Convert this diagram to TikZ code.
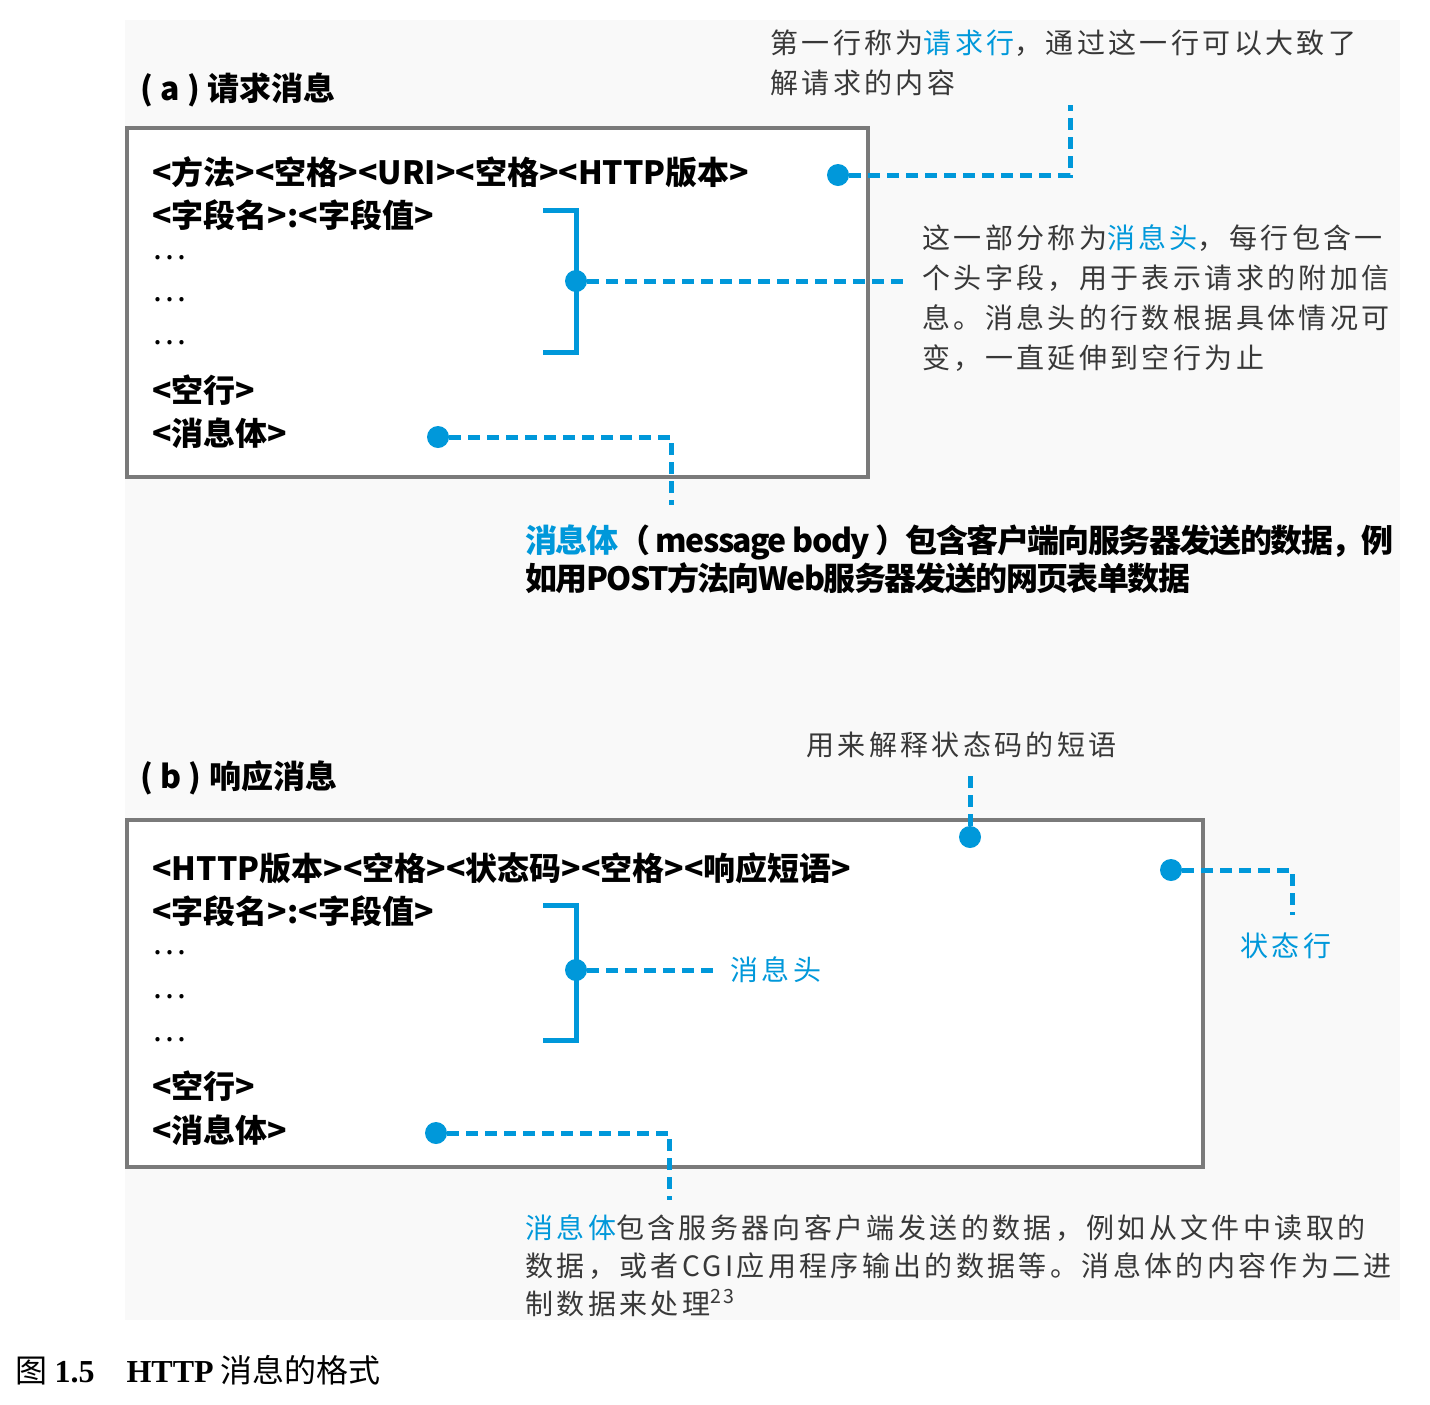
\documentclass[tikz,border=0pt]{standalone}
\usepackage{fontspec}
\setmainfont{Noto Sans CJK SC}
\newfontfamily\notefont[LetterSpace=12]{Noto Sans CJK SC}
\newfontfamily\tightfont[LetterSpace=-5]{Noto Sans CJK SC}
\newfontfamily\capfont{Liberation Serif}
\usepackage{tikz}
\definecolor{leadblue}{HTML}{0098DA}
\definecolor{framegray}{HTML}{7A7A7A}
\definecolor{notegray}{HTML}{383838}
\definecolor{scanbg}{HTML}{F9F9F9}
\newcommand{\hl}[1]{\textcolor{leadblue}{#1}}
\tikzset{dot/.style={fill=leadblue, inner sep=0pt, minimum size=11pt, circle},
  lead/.style={leadblue, line width=2.5pt, dash pattern=on 6pt off 3.5pt},
  frame/.style={framegray, line width=2pt},
  brace/.style={leadblue, line width=2.5pt},
  code/.style={anchor=west, inner sep=0pt, font=\bfseries\fontsize{16}{19}\selectfont},
  ellip/.style={anchor=west, inner sep=0pt, font=\fontsize{16}{19}\selectfont},
  bodynote/.style={anchor=north west, inner sep=0pt, align=left, font=\tightfont\bfseries\fontsize{16}{19}\selectfont},
  note/.style={anchor=north west, inner sep=0pt, align=left, text=notegray, font=\notefont\fontsize{14}{20}\selectfont}}

\begin{document}
\begin{tikzpicture}[x=0.5pt, y=-0.5pt]
  \useasboundingbox (0,0) rectangle (1430,1404);
  \fill[scanbg] (125,20) rectangle (1400,1320);
  % (a) request
  \node[code] (rq title) at (140,90) {( a ) 请求消息};
  \draw[frame, fill=white] (127,128) rectangle (868,477);
  \node[code] (rq line) at (152,172) {<方法><空格><URI><空格><HTTP版本>};
  \node[code] (rq field) at (152,215) {<字段名>:<字段值>};
  \foreach \y [count=\i] in {258,300,343}
    \node[ellip] (rq dots\i) at (152,\y) {…};
  \node[code] (rq blank) at (152,390) {<空行>};
  \node[code] (rq body) at (152,433) {<消息体>};
  \node[dot] (rq line dot) at (838,175) {};
  \coordinate (rq line end) at (1070,105);
  \draw[lead] (rq line dot) -| (rq line end);
  \draw[brace] (543,210) -- (576,210) -- (576,352) -- (543,352);
  \node[dot] (rq head dot) at (576,281) {};
  \coordinate (rq head end) at (910,281);
  \draw[lead] (rq head dot) -- (rq head end);
  \node[dot] (rq body dot) at (438,437) {};
  \coordinate (rq body end) at (671,505);
  \draw[lead] (rq body dot) -| (rq body end);
  \node[note] (rq line note) at (770,29) {第一行称为\hl{请求行}，通过这一行可以大致了\\解请求的内容};
  \node[note] (rq head note) at (922,224) {这一部分称为\hl{消息头}，每行包含一\\个头字段，用于表示请求的附加信\\息。消息头的行数根据具体情况可\\变，一直延伸到空行为止};
  \node[bodynote] (rq body note) at (525,524) {\hl{消息体}（ message body ）包含客户端向服务器发送的数据，例\\如用POST方法向Web服务器发送的网页表单数据};
  % (b) response
  \node[code] (rs title) at (140,778) {( b ) 响应消息};
  \draw[frame, fill=white] (127,820) rectangle (1203,1167);
  \node[code] (rs line) at (152,868) {<HTTP版本><空格><状态码><空格><响应短语>};
  \node[code] (rs field) at (152,911) {<字段名>:<字段值>};
  \foreach \y [count=\i] in {953,997,1040}
    \node[ellip] (rs dots\i) at (152,\y) {…};
  \node[code] (rs blank) at (152,1086) {<空行>};
  \node[code] (rs body) at (152,1130) {<消息体>};
  \node[dot] (rs phrase dot) at (970,837) {};
  \coordinate (rs phrase end) at (970,775);
  \draw[lead] (rs phrase dot) -- (rs phrase end);
  \node[note] (rs phrase note) at (806,731) {用来解释状态码的短语};
  \node[dot] (rs line dot) at (1171,870) {};
  \coordinate (rs line end) at (1292,915);
  \draw[lead] (rs line dot) -| (rs line end);
  \node[note, text=leadblue] (rs line note) at (1240,932) {状态行};
  \draw[brace] (543,905) -- (576,905) -- (576,1040) -- (543,1040);
  \node[dot] (rs head dot) at (576,970) {};
  \coordinate (rs head end) at (715,970);
  \draw[lead] (rs head dot) -- (rs head end);
  \node[note, text=leadblue] (rs head note) at (730,956) {消息头};
  \node[dot] (rs body dot) at (436,1133) {};
  \coordinate (rs body end) at (669,1200);
  \draw[lead] (rs body dot) -| (rs body end);
  \node[note, font=\notefont\fontsize{14}{19}\selectfont] (rs body note) at (525,1214) {\hl{消息体}包含服务器向客户端发送的数据，例如从文件中读取的\\数据，或者CGI应用程序输出的数据等。消息体的内容作为二进\\制数据来处理\textsuperscript{23}};
  % caption
  \node[anchor=west, inner sep=0pt, font=\fontsize{16}{19}\selectfont] (caption) at (15,1370) {图 {\capfont\bfseries 1.5}\quad{\capfont\bfseries HTTP} 消息的格式};
\end{tikzpicture}
\end{document}
